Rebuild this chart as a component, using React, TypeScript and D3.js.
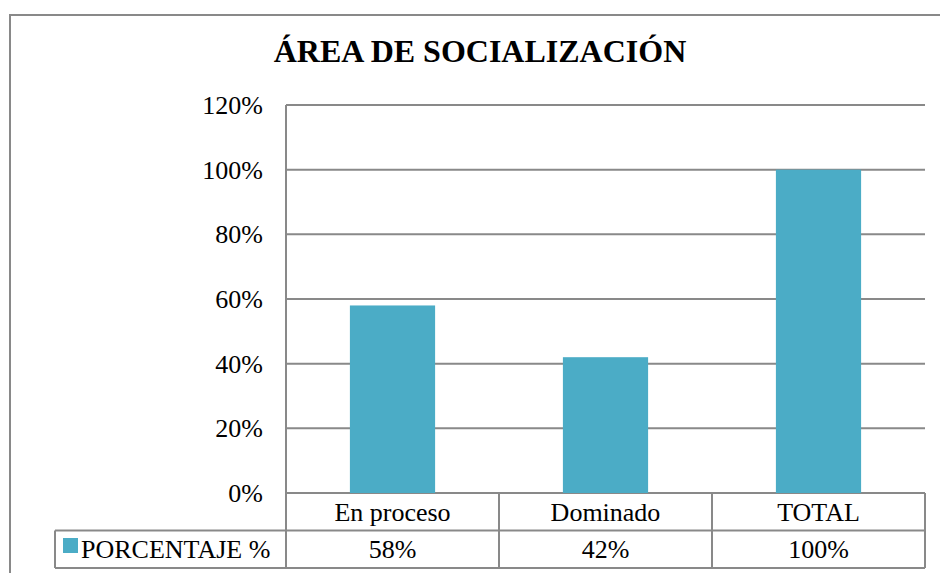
import React from "react";
import * as d3 from "d3";

const title = "ÁREA DE SOCIALIZACIÓN";
const categories = ["En proceso", "Dominado", "TOTAL"];
const values = [0.58, 0.42, 1.0];
const valueLabels = ["58%", "42%", "100%"];
const seriesName = "PORCENTAJE %";
const yTicks = [0, 0.2, 0.4, 0.6, 0.8, 1.0, 1.2];

const W = 940;
const H = 573;
const plotLeft = 286;
const plotRight = 925;
const plotTop = 105;
const plotBottom = 493;
const rowH = 37.5;
const legendLeft = 55;
const gray = "#898989";
const barColor = "#4BACC6";
const txt: React.CSSProperties = { fontFamily: '"Liberation Serif", "Times New Roman", serif', fontSize: 26 };

export default function App() {
  const x = d3.scaleBand<string>().domain(categories).range([plotLeft, plotRight]).paddingInner(0.6).paddingOuter(0.3);
  const xCell = d3.scaleBand<string>().domain(categories).range([plotLeft, plotRight]);
  const y = d3.scaleLinear().domain([0, 1.2]).range([plotBottom, plotTop]);
  const fmt = d3.format(".0%");
  const row1 = plotBottom + rowH;
  const row2 = plotBottom + 2 * rowH;

  return (
    <svg width={W} height={H} style={{ position: "absolute", left: 0, top: 0 }}>
      <rect x={0} y={0} width={W} height={H} fill="#fff" />
      <rect x={10} y={15} width={W + 20} height={H + 20} fill="none" stroke={gray} strokeWidth={2} />
      <text x={480} y={62} textAnchor="middle" style={{ ...txt, fontSize: 32, fontWeight: "bold" }} fill="#000">
        {title}
      </text>
      {yTicks.map((t) => (
        <line key={t} x1={plotLeft} x2={plotRight} y1={y(t)} y2={y(t)} stroke={gray} strokeWidth={2} />
      ))}
      {yTicks.map((t) => (
        <text key={"l" + t} x={263} y={y(t)} dy="0.35em" textAnchor="end" style={txt} fill="#000">
          {fmt(t)}
        </text>
      ))}
      {categories.map((c, i) => (
        <rect key={c} x={x(c)} y={y(values[i])} width={x.bandwidth()} height={plotBottom - y(values[i])} fill={barColor} />
      ))}
      <line x1={plotLeft} x2={plotLeft} y1={plotTop} y2={row2} stroke={gray} strokeWidth={2} />
      <line x1={legendLeft} x2={plotRight} y1={row1} y2={row1} stroke={gray} strokeWidth={2} />
      <line x1={legendLeft} x2={plotRight} y1={row2} y2={row2} stroke={gray} strokeWidth={2} />
      <line x1={legendLeft} x2={legendLeft} y1={row1} y2={row2} stroke={gray} strokeWidth={2} />
      {categories.map((c) => (
        <line key={"v" + c} x1={(xCell(c) as number) + xCell.bandwidth()} x2={(xCell(c) as number) + xCell.bandwidth()} y1={plotBottom} y2={row2} stroke={gray} strokeWidth={2} />
      ))}
      {categories.map((c, i) => (
        <g key={"t" + c}>
          <text x={(xCell(c) as number) + xCell.bandwidth() / 2} y={plotBottom + rowH / 2} dy="0.35em" textAnchor="middle" style={txt} fill="#000">
            {c}
          </text>
          <text x={(xCell(c) as number) + xCell.bandwidth() / 2} y={row1 + rowH / 2} dy="0.35em" textAnchor="middle" style={txt} fill="#000">
            {valueLabels[i]}
          </text>
        </g>
      ))}
      <rect x={63} y={538} width={15} height={15} fill={barColor} />
      <text x={81} y={row1 + rowH / 2} dy="0.35em" style={txt} fill="#000">
        {seriesName}
      </text>
    </svg>
  );
}
